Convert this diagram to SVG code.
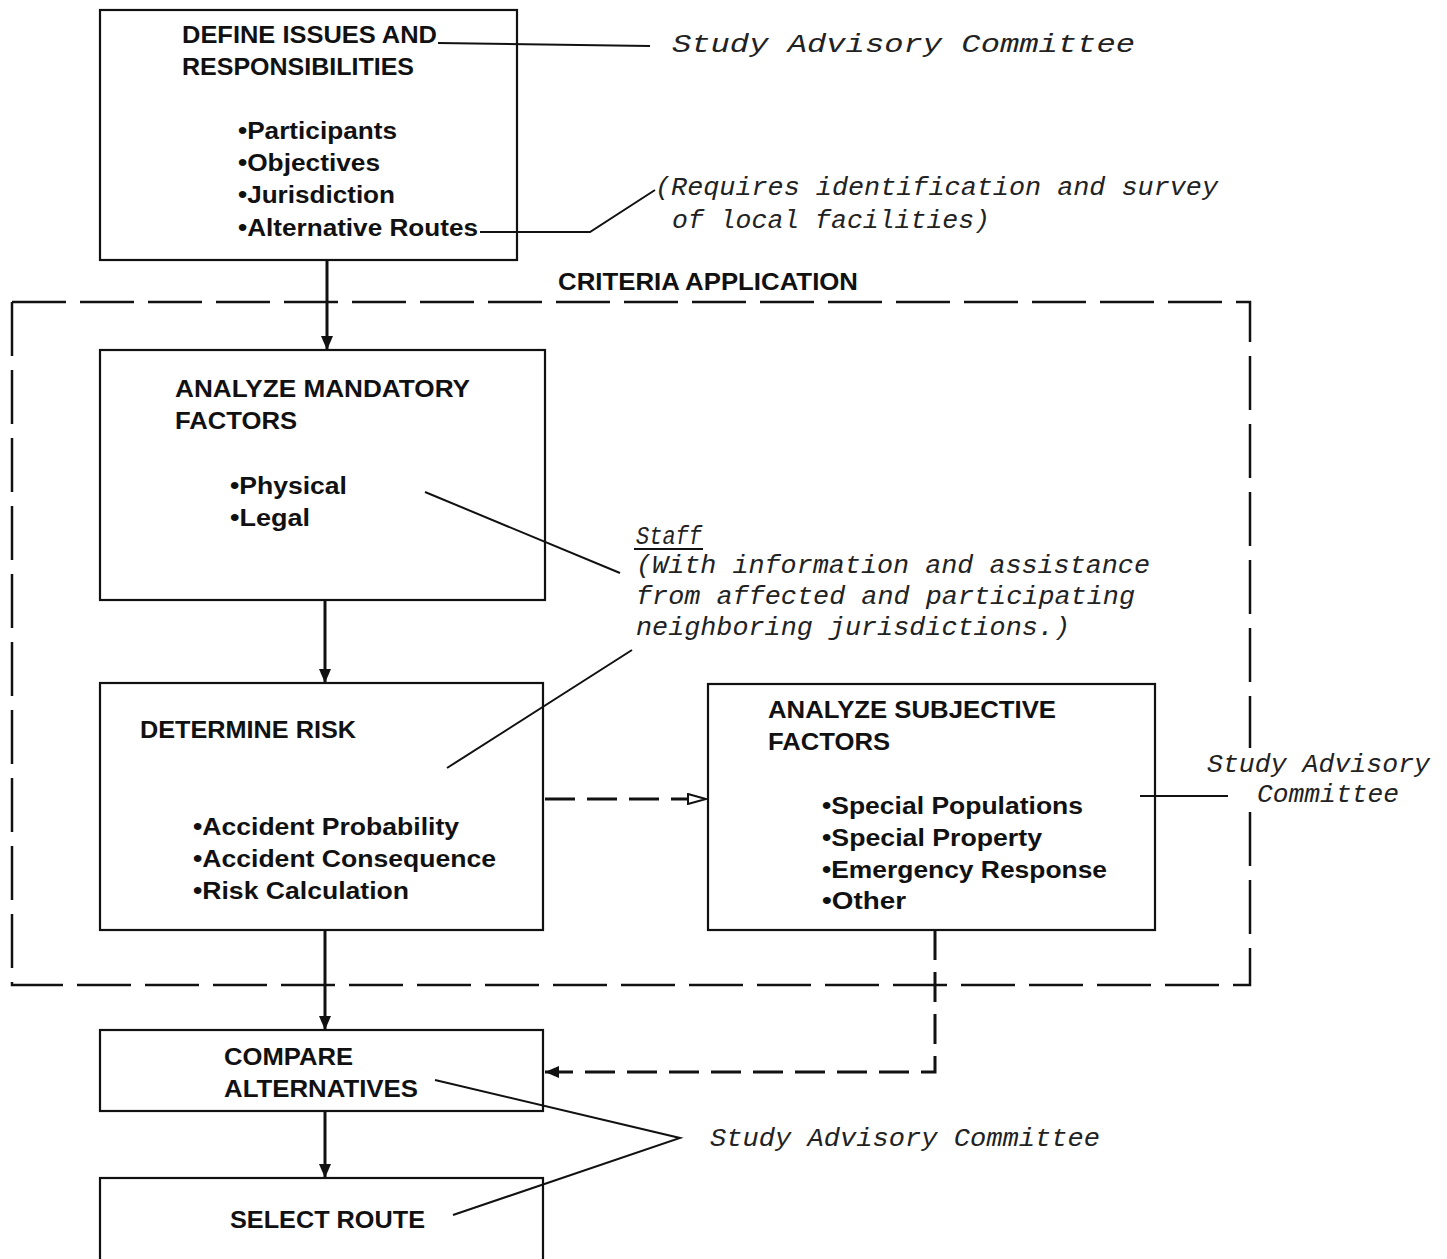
<svg xmlns="http://www.w3.org/2000/svg" width="1447" height="1259" viewBox="0 0 1447 1259">
<style>
.box{fill:#fff;stroke:#111;stroke-width:2.2}
.hd{font-family:"Liberation Sans",Arial,sans-serif;font-weight:bold;font-size:23px;fill:#111}
.an{font-family:"Liberation Mono","Courier New",monospace;font-style:italic;font-size:26px;fill:#222}
.ln{fill:none;stroke:#111;stroke-width:2}
.conn{fill:none;stroke:#111;stroke-width:3}
.dash{fill:none;stroke:#111;stroke-width:3;stroke-dasharray:30 12}
</style>
<defs>
<marker id="ah" markerWidth="14" markerHeight="12" refX="14" refY="6" orient="auto" markerUnits="userSpaceOnUse"><path d="M0,0 L14,6 L0,12 Z" fill="#111"/></marker>
<marker id="ao" markerWidth="20" markerHeight="12" refX="20" refY="6" orient="auto" markerUnits="userSpaceOnUse"><path d="M1,1 L19,6 L1,11 Z" fill="#fff" stroke="#111" stroke-width="2"/></marker>
</defs>
<rect width="1447" height="1259" fill="#fff"/>
<g id="criteria-application">
<path d="M12,302 H1250 V748 M1250,812 V985 H12 V302" fill="none" stroke="#111" stroke-width="2.5" stroke-dasharray="54 14"/>
<text class="hd" x="558" y="290" textLength="300" lengthAdjust="spacingAndGlyphs">CRITERIA APPLICATION</text>
</g>
<g id="connectors">
<line class="conn" x1="327" y1="260" x2="327" y2="350" marker-end="url(#ah)"/>
<line class="conn" x1="325" y1="600" x2="325" y2="683" marker-end="url(#ah)"/>
<line class="conn" x1="325" y1="930" x2="325" y2="1030" marker-end="url(#ah)"/>
<line class="conn" x1="325" y1="1111" x2="325" y2="1178" marker-end="url(#ah)"/>
<line class="dash" x1="545" y1="799" x2="707" y2="799" marker-end="url(#ao)"/>
<polyline class="dash" points="935,930 935,1072 545,1072" marker-end="url(#ah)"/>
</g>
<g id="node-define">
<rect class="box" x="100" y="10" width="417" height="250"/>
<text class="hd" x="182" y="43" textLength="255" lengthAdjust="spacingAndGlyphs">DEFINE ISSUES AND</text>
<text class="hd" x="182" y="75" textLength="232" lengthAdjust="spacingAndGlyphs">RESPONSIBILITIES</text>
<text class="hd" x="238" y="139" textLength="159" lengthAdjust="spacingAndGlyphs">•Participants</text>
<text class="hd" x="238" y="171" textLength="142" lengthAdjust="spacingAndGlyphs">•Objectives</text>
<text class="hd" x="238" y="203" textLength="157" lengthAdjust="spacingAndGlyphs">•Jurisdiction</text>
<text class="hd" x="238" y="236" textLength="240" lengthAdjust="spacingAndGlyphs">•Alternative Routes</text>
</g>
<g id="node-mandatory">
<rect class="box" x="100" y="350" width="445" height="250"/>
<text class="hd" x="175" y="397" textLength="295" lengthAdjust="spacingAndGlyphs">ANALYZE MANDATORY</text>
<text class="hd" x="175" y="429" textLength="122" lengthAdjust="spacingAndGlyphs">FACTORS</text>
<text class="hd" x="230" y="494" textLength="117" lengthAdjust="spacingAndGlyphs">•Physical</text>
<text class="hd" x="230" y="526" textLength="80" lengthAdjust="spacingAndGlyphs">•Legal</text>
</g>
<g id="node-risk">
<rect class="box" x="100" y="683" width="443" height="247"/>
<text class="hd" x="140" y="738" textLength="216" lengthAdjust="spacingAndGlyphs">DETERMINE RISK</text>
<text class="hd" x="193" y="835" textLength="266" lengthAdjust="spacingAndGlyphs">•Accident Probability</text>
<text class="hd" x="193" y="867" textLength="303" lengthAdjust="spacingAndGlyphs">•Accident Consequence</text>
<text class="hd" x="193" y="899" textLength="216" lengthAdjust="spacingAndGlyphs">•Risk Calculation</text>
</g>
<g id="node-subjective">
<rect class="box" x="708" y="684" width="447" height="246"/>
<text class="hd" x="768" y="718" textLength="288" lengthAdjust="spacingAndGlyphs">ANALYZE SUBJECTIVE</text>
<text class="hd" x="768" y="750" textLength="122" lengthAdjust="spacingAndGlyphs">FACTORS</text>
<text class="hd" x="822" y="814" textLength="261" lengthAdjust="spacingAndGlyphs">•Special Populations</text>
<text class="hd" x="822" y="846" textLength="220" lengthAdjust="spacingAndGlyphs">•Special Property</text>
<text class="hd" x="822" y="878" textLength="285" lengthAdjust="spacingAndGlyphs">•Emergency Response</text>
<text class="hd" x="822" y="909" textLength="84" lengthAdjust="spacingAndGlyphs">•Other</text>
</g>
<g id="node-compare">
<rect class="box" x="100" y="1030" width="443" height="81"/>
<text class="hd" x="224" y="1065" textLength="129" lengthAdjust="spacingAndGlyphs">COMPARE</text>
<text class="hd" x="224" y="1097" textLength="194" lengthAdjust="spacingAndGlyphs">ALTERNATIVES</text>
</g>
<g id="node-select">
<rect class="box" x="100" y="1178" width="443" height="85"/>
<text class="hd" x="230" y="1228" textLength="195" lengthAdjust="spacingAndGlyphs">SELECT ROUTE</text>
</g>
<g id="annotations">
<line class="ln" x1="438" y1="43" x2="650" y2="46"/>
<text class="an" x="672" y="52" font-size="28" textLength="463" lengthAdjust="spacingAndGlyphs">Study Advisory Committee</text>
<polyline class="ln" points="480,232 590,232 655,190"/>
<text class="an" x="655" y="195" textLength="563" lengthAdjust="spacingAndGlyphs">(Requires identification and survey</text>
<text class="an" x="672" y="228" textLength="318" lengthAdjust="spacingAndGlyphs">of local facilities)</text>
<line class="ln" x1="425" y1="492" x2="620" y2="573" stroke-width="3"/>
<line class="ln" x1="447" y1="768" x2="632" y2="650"/>
<text class="an" x="636" y="544" textLength="66" lengthAdjust="spacingAndGlyphs">Staff</text>
<line class="ln" x1="634" y1="549" x2="703" y2="549" stroke-width="1.8"/>
<text class="an" x="636" y="573" textLength="514" lengthAdjust="spacingAndGlyphs">(With information and assistance</text>
<text class="an" x="636" y="604" textLength="499" lengthAdjust="spacingAndGlyphs">from affected and participating</text>
<text class="an" x="636" y="635" textLength="434" lengthAdjust="spacingAndGlyphs">neighboring jurisdictions.)</text>
<line class="ln" x1="1140" y1="796" x2="1228" y2="796" stroke-width="3"/>
<text class="an" x="1207" y="772" textLength="223" lengthAdjust="spacingAndGlyphs">Study Advisory</text>
<text class="an" x="1257" y="802" textLength="142" lengthAdjust="spacingAndGlyphs">Committee</text>
<polyline class="ln" points="435,1080 680,1138 453,1215"/>
<text class="an" x="710" y="1146" textLength="390" lengthAdjust="spacingAndGlyphs">Study Advisory Committee</text>
</g>
</svg>
